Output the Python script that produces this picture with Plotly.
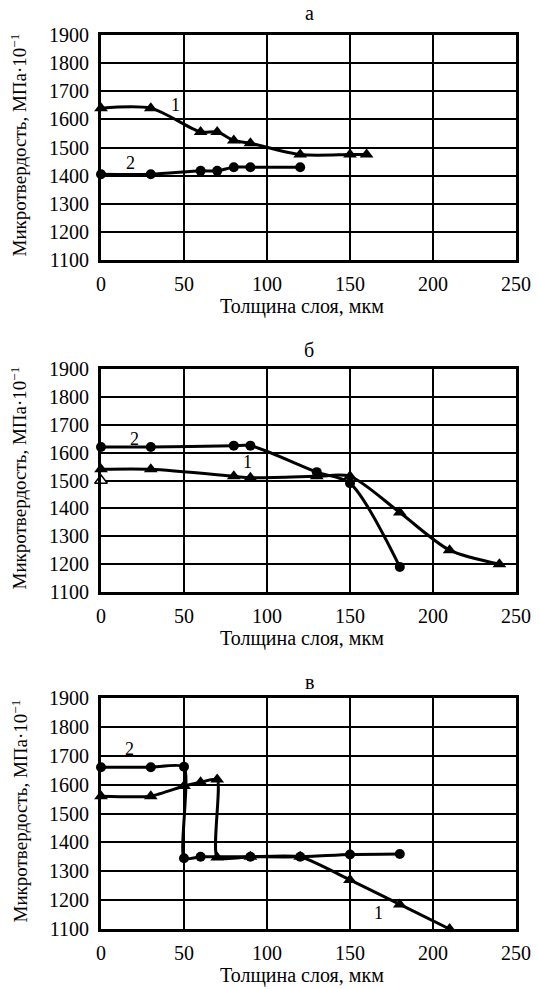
import plotly.graph_objects as go

# ---------------- data ----------------
x_ticks = [0, 50, 100, 150, 200, 250]
y_ticks = [1100, 1200, 1300, 1400, 1500, 1600, 1700, 1800, 1900]

panel_titles = ["а", "б", "в"]
x_title = "Толщина слоя, мкм"
y_title = "Микротвердость, МПа·10<sup>−1</sup>"

# panel а
a1_x = [0, 30, 60, 70, 80, 90, 120, 150, 160]
a1_y = [1640, 1640, 1555, 1555, 1525, 1515, 1475, 1475, 1475]
a2_x = [0, 30, 60, 70, 80, 90, 120]
a2_y = [1405, 1405, 1417, 1417, 1430, 1430, 1430]

# panel б
b1_x = [0, 30, 80, 90, 130, 150, 180, 210, 240]
b1_y = [1540, 1540, 1515, 1510, 1515, 1515, 1385, 1250, 1200]
b2_x = [0, 30, 80, 90, 130, 150, 180]
b2_y = [1620, 1620, 1625, 1625, 1530, 1490, 1190]
b_open_x = [0]
b_open_y = [1500]

# panel в
c1_x = [0, 30, 50, 60, 70, 70, 90, 120, 150, 180, 210]
c1_y = [1560, 1560, 1595, 1608, 1618, 1348, 1350, 1350, 1270, 1185, 1100]
c2_x = [0, 30, 50, 50, 60, 90, 120, 150, 180]
c2_y = [1660, 1660, 1662, 1345, 1350, 1350, 1350, 1358, 1360]

# curve labels: (panel, x, y, text)
curve_labels = [
    (0, 45, 1650, "1"), (0, 18, 1445, "2"),
    (1, 88, 1565, "1"), (1, 20, 1650, "2"),
    (2, 167, 1155, "1"), (2, 17, 1725, "2"),
]

# ---------------- layout geometry ----------------
# the page's body margin is removed in post_script, so the figure fills the window
W, H = 539, 989
x_left, x_right = 101, 516
panels_px = [(35, 260), (369, 592), (698, 929)]
panel_title_y = [13, 350, 682]
smooth = [0.8, 0.8, 0.55]

FONT = "Liberation Serif"

fig = go.Figure()

series = [
    [(a1_x, a1_y, "triangle-up"), (a2_x, a2_y, "circle")],
    [(b1_x, b1_y, "triangle-up"), (b2_x, b2_y, "circle")],
    [(c1_x, c1_y, "triangle-up"), (c2_x, c2_y, "circle")],
]

layout = dict(
    width=W, height=H,
    margin=dict(l=0, r=0, t=0, b=0, autoexpand=False),
    paper_bgcolor="white", plot_bgcolor="white",
    showlegend=False,
    font=dict(family=FONT, size=20, color="black"),
)

annotations = []
for i, (top, bot) in enumerate(panels_px):
    sfx = "" if i == 0 else str(i + 1)
    xa, ya = "x" + sfx, "y" + sfx
    for xs, ys, sym in series[i]:
        fig.add_trace(go.Scatter(
            x=xs, y=ys, mode="lines+markers",
            line=dict(color="black", width=3, shape="spline", smoothing=smooth[i]),
            marker=dict(symbol=sym, size=12 if sym.startswith("tri") else 10,
                        color="black"),
            cliponaxis=False, xaxis=xa, yaxis=ya, hoverinfo="skip",
        ))
    if i == 1:
        fig.add_trace(go.Scatter(
            x=b_open_x, y=b_open_y, mode="markers",
            marker=dict(symbol="triangle-up", size=11, color="white",
                        line=dict(color="black", width=1.5)),
            cliponaxis=False, xaxis=xa, yaxis=ya, hoverinfo="skip",
        ))
    dom_y = [1 - bot / H, 1 - top / H]
    layout["xaxis" + sfx] = dict(
        domain=[x_left / W, x_right / W], range=[0, 250], anchor=ya,
        tickvals=x_ticks, ticks="", showgrid=True, gridcolor="black", gridwidth=1.6,
        showline=True, linecolor="black", linewidth=3, mirror=True,
        zeroline=False, ticklabelstandoff=4,
        tickfont=dict(family=FONT, size=20, color="black"),
    )
    layout["yaxis" + sfx] = dict(
        domain=dom_y, range=[1100, 1900], anchor=xa,
        tickvals=y_ticks, ticks="", showgrid=True, gridcolor="black", gridwidth=1.6,
        showline=True, linecolor="black", linewidth=3, mirror=True,
        zeroline=False, ticklabelstandoff=5,
        tickfont=dict(family=FONT, size=20, color="black"),
    )
    # panel title
    annotations.append(dict(
        text=panel_titles[i], xref="paper", yref="paper",
        x=309 / W, y=1 - panel_title_y[i] / H, showarrow=False,
        font=dict(family=FONT, size=20), xanchor="center", yanchor="middle"))
    # x-axis title
    annotations.append(dict(
        text=x_title, xref="paper", yref="paper",
        x=302 / W, y=1 - (bot + 46) / H, showarrow=False,
        font=dict(family=FONT, size=20), xanchor="center", yanchor="middle"))
    # y-axis title
    annotations.append(dict(
        text=y_title, xref="paper", yref="paper", textangle=-90,
        x=19 / W, y=1 - ((top + bot) / 2 - 2) / H, showarrow=False,
        font=dict(family=FONT, size=19), xanchor="center", yanchor="middle"))

for p, lx, ly, t in curve_labels:
    sfx = "" if p == 0 else str(p + 1)
    annotations.append(dict(
        text=t, x=lx, y=ly, xref="x" + sfx, yref="y" + sfx, showarrow=False,
        font=dict(family=FONT, size=18), xanchor="center", yanchor="middle"))

layout["annotations"] = annotations
fig.update_layout(**layout)
fig.write_html(
    "out.html", config={"displayModeBar": False},
    post_script="document.body.style.margin='0';document.body.style.padding='0';"
                "document.documentElement.style.overflow='hidden';",
)
